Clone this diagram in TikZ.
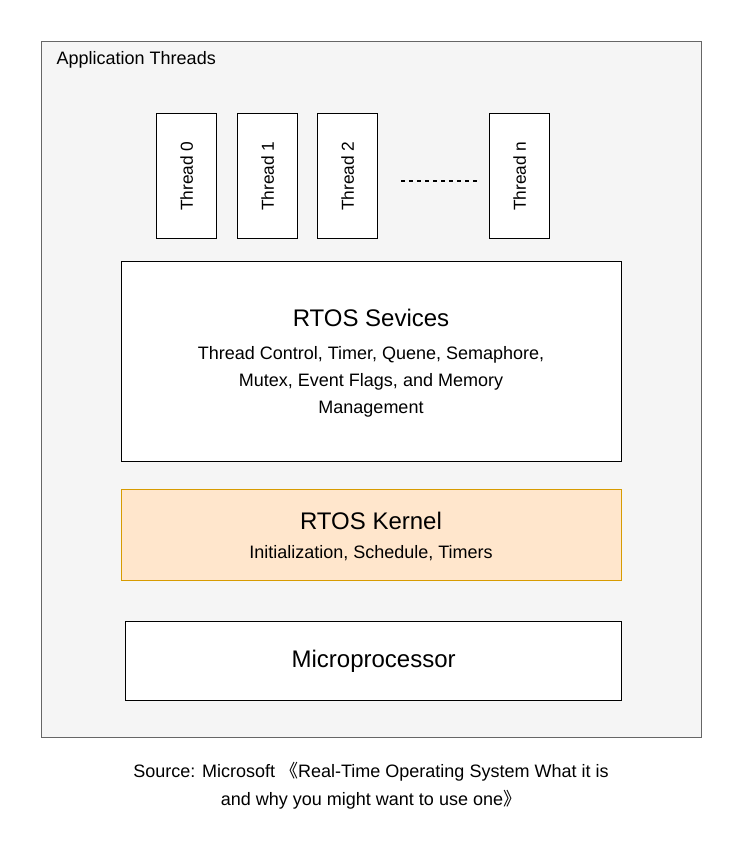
\documentclass[tikz,border=0pt]{standalone}
\usepackage{fontspec}
\setmainfont{Liberation Sans}
\newfontfamily\cjk{Noto Sans CJK SC}
\usetikzlibrary{positioning}
\definecolor{panelgray}{HTML}{F5F5F5}
\definecolor{edgegray}{HTML}{666666}
\definecolor{kernelfill}{HTML}{FFE6CC}
\definecolor{kerneledge}{HTML}{D79B00}

\tikzset{
  block/.style={draw=black, fill=white, line width=1pt, inner sep=0pt, anchor=north west},
  thread/.style={block, minimum width=45pt, minimum height=93.75pt},
}

\begin{document}
\begin{tikzpicture}[x=0.75pt, y=-0.75pt]
  \useasboundingbox (0,0) rectangle (742,852);

  % Outer panel
  \node[draw=edgegray, fill=panelgray, line width=1pt, anchor=north west,
        minimum width=495pt, minimum height=522pt, inner sep=0pt] (panel) at (41,41) {};
  \node[anchor=west, font=\fontsize{13.5}{16}\selectfont] (apptitle) at (52,60) {Application Threads};

  % Threads
  \foreach \x/\name/\lbl in {156/t0/0, 237/t1/1, 317/t2/2, 489/tn/n} {
    \node[thread] (\name) at (\x,113) {};
    \node[rotate=90, font=\fontsize{13}{16}\selectfont] at (\name.center) {Thread \lbl};
  }
  \coordinate (dotsL) at (401,181);
  \coordinate (dotsR) at (479,181);
  \draw[dashed, line width=1pt] (dotsL) -- (dotsR);

  % Services
  \node[block, minimum width=375pt, minimum height=150pt] (services) at (121,261) {};
  \node[font=\fontsize{18}{22}\selectfont] (servtitle) at (371,318) {RTOS Sevices};
  \node[font=\fontsize{13.5}{20.25}\selectfont, align=center] (servtext) at (371,382)
    {Thread Control, Timer, Quene, Semaphore,\\Mutex, Event Flags, and Memory\\Management};

  % Kernel
  \node[block, draw=kerneledge, fill=kernelfill, minimum width=375pt, minimum height=68.25pt] (kernel) at (121,489) {};
  \node[font=\fontsize{18}{22}\selectfont] (kerntitle) at (371,521) {RTOS Kernel};
  \node[font=\fontsize{13.5}{16}\selectfont] (kerntext) at (371,553) {Initialization, Schedule, Timers};

  % Microprocessor
  \node[block, minimum width=372pt, minimum height=59.25pt] (micro) at (125,621) {};
  \node[font=\fontsize{18}{22}\selectfont] at (micro.center) {Microprocessor};

  % Source
  \node[font=\fontsize{13.5}{21}\selectfont, align=center] (source) at (371,786)
    {Source: Microsoft {\cjk 《}Real-Time Operating System What it is\\and why you might want to use one{\cjk 》}};
\end{tikzpicture}
\end{document}
